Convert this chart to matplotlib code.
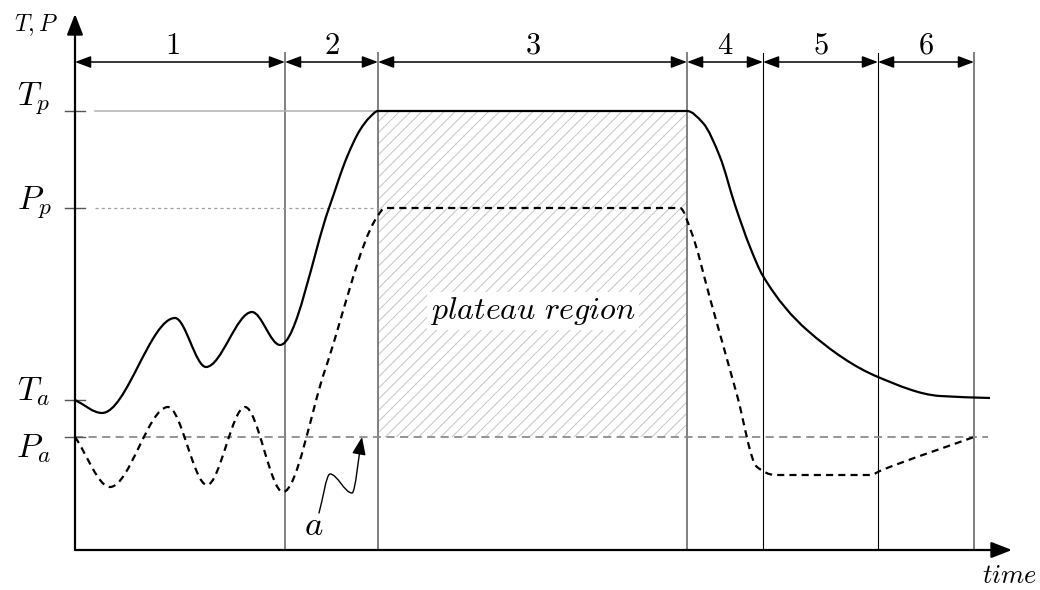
import numpy as np
import matplotlib
import matplotlib.pyplot as plt
from matplotlib.path import Path
from matplotlib.patches import PathPatch, Rectangle, FancyArrowPatch

plt.rcParams['mathtext.fontset'] = 'cm'
plt.rcParams['hatch.linewidth'] = 0.7

# phase boundaries along the time axis (phase 1 starts at the origin)
boundaries = [0.0, 21.0, 30.3, 61.2, 68.8, 80.3, 89.9]
phase_labels = ['1', '2', '3', '4', '5', '6']
phase_label_t = [9.7, 25.65, 45.75, 65.0, 74.55, 85.1]

# reference levels on the value axis
level_names = ['T_p', 'P_p', 'T_a', 'P_a']
level_values = [43.9, 34.2, 15.0, 11.3]
level_text_dy = [0.7, 0.0, 0.0, -2.0]

# temperature curve (solid)
T_t = [0.0, 2.7, 10.0, 13.1, 17.7, 20.5, 25.4, 27.2, 28.5, 29.5, 30.3,
       61.2, 62.8, 64.5, 66.0, 67.5, 68.8, 73.2, 80.3, 86.5, 91.5]
T_v = [15.0, 13.7, 23.2, 18.3, 23.8, 20.5, 34.2, 39.3, 42.0, 43.3, 43.9,
       43.9, 42.7, 39.3, 34.5, 30.3, 27.4, 22.0, 17.3, 15.4, 15.2]

# pressure curve (dashed)
P_t = [0.0, 3.5, 9.3, 13.2, 17.0, 20.8, 25.0, 30.2, 31.0, 60.5,
       61.6, 63.6, 66.2, 68.2, 70.0, 79.5, 80.7, 89.9]
P_v = [11.3, 6.3, 14.3, 6.5, 14.3, 5.8, 18.0, 33.3, 34.2, 34.2,
       31.9, 24.8, 15.5, 8.3, 7.5, 7.5, 8.0, 11.3]

# wiggly pointer to the marker "a"
a_t = [24.4, 25.5, 27.7, 28.7]
a_v = [3.7, 7.6, 5.7, 11.3]


def smooth_path(t, v):
    # monotone cubic (pchip style) slopes, drawn as bezier segments
    t = np.asarray(t, float)
    v = np.asarray(v, float)
    h = np.diff(t)
    d = np.diff(v) / h
    n = len(t)
    m = np.zeros(n)
    m[0], m[-1] = d[0], d[-1]
    for k in range(1, n - 1):
        if d[k - 1] * d[k] > 0:
            w1 = 2 * h[k] + h[k - 1]
            w2 = h[k] + 2 * h[k - 1]
            m[k] = (w1 + w2) / (w1 / d[k - 1] + w2 / d[k])
    verts = [(t[0], v[0])]
    codes = [Path.MOVETO]
    for k in range(n - 1):
        verts += [(t[k] + h[k] / 3, v[k] + m[k] * h[k] / 3),
                  (t[k + 1] - h[k] / 3, v[k + 1] - m[k + 1] * h[k] / 3),
                  (t[k + 1], v[k + 1])]
        codes += [Path.CURVE4] * 3
    return Path(verts, codes)


fig = plt.figure(figsize=(10.4, 5.9), dpi=100)
ax = fig.add_axes([0, 0, 1, 1])
ax.set_xlim(-7.5, 96.5)
ax.set_ylim(-4, 55)
ax.axis('off')

Tp, Pp, Ta, Pa = level_values

# plateau region hatch
ax.add_patch(Rectangle((boundaries[2], Pa), boundaries[3] - boundaries[2], Tp - Pa,
                       fill=False, edgecolor='#c4c4c4', lw=0, hatch='///', zorder=1))

# phase separators
for i, b in enumerate(boundaries[1:]):
    if i in (3, 4):
        ax.plot([b, b], [0, 49.7], color='black', lw=0.8, zorder=2)
    else:
        ax.plot([b, b], [0, 49.7], color='#808080', lw=1.4, zorder=2)

# guide lines for the levels
ax.plot([2.0, boundaries[2]], [Tp, Tp], color='#b0b0b0', lw=1.1, zorder=2)
ax.plot([2.0, boundaries[2]], [Pp, Pp], color='#a0a0a0', lw=0.9,
        linestyle=(0, (2.5, 2.5)), zorder=2)
ax.plot([0, 91.3], [Pa, Pa], color='#8c8c8c', lw=1.3,
        linestyle=(0, (4.5, 3)), zorder=2)

# ticks and level labels
for name, val, dy in zip(level_names, level_values, level_text_dy):
    ax.plot([-1.0, 1.0], [val, val], color='#555555', lw=1.0, zorder=3)
    ax.text(-4.1, val + dy, '$' + name + '$', fontsize=24,
            ha='center', va='baseline')

# axes with arrow heads
ax.annotate('', xy=(0, 53.6), xytext=(0, 0),
            arrowprops=dict(arrowstyle='-|>,head_length=0.9,head_width=0.35',
                            mutation_scale=14, color='black', lw=1.6,
                            shrinkA=0, shrinkB=0))
ax.annotate('', xy=(93.7, 0), xytext=(0, 0),
            arrowprops=dict(arrowstyle='-|>,head_length=0.9,head_width=0.35',
                            mutation_scale=14, color='black', lw=1.6,
                            shrinkA=0, shrinkB=0))
ax.text(-3.9, 51.9, '$T,P$', fontsize=17, ha='center', va='baseline')
ax.text(93.5, -3.3, '$time$', fontsize=19, ha='center', va='baseline')

# phase arrows and numbers
for k in range(len(phase_labels)):
    ax.annotate('', xy=(boundaries[k + 1], 48.8), xytext=(boundaries[k], 48.8),
                arrowprops=dict(arrowstyle='<|-|>,head_length=0.8,head_width=0.3',
                                mutation_scale=12, color='black', lw=1.1,
                                shrinkA=0, shrinkB=0))
    ax.text(phase_label_t[k], 50.5, '$' + phase_labels[k] + '$', fontsize=22,
            ha='center', va='center')

# curves
ax.add_patch(PathPatch(smooth_path(T_t, T_v), fill=False, color='black',
                       lw=1.6, zorder=4))
ax.add_patch(PathPatch(smooth_path(P_t, P_v), fill=False, color='black',
                       lw=1.6, linestyle=(0, (3.2, 2.3)), zorder=4))

ax.text(45.8, 23.9, '$plateau\\ region$', fontsize=23, ha='center', va='center',
        bbox=dict(facecolor='white', edgecolor='none', pad=2), zorder=5)

# marker "a"
ax.add_patch(FancyArrowPatch(path=smooth_path(a_t, a_v),
                             arrowstyle='-|>,head_length=0.9,head_width=0.35',
                             mutation_scale=12, color='black', lw=1.0, zorder=4))
ax.text(23.9, 2.5, '$a$', fontsize=25, ha='center', va='center')

plt.savefig('out.png', dpi=100)
